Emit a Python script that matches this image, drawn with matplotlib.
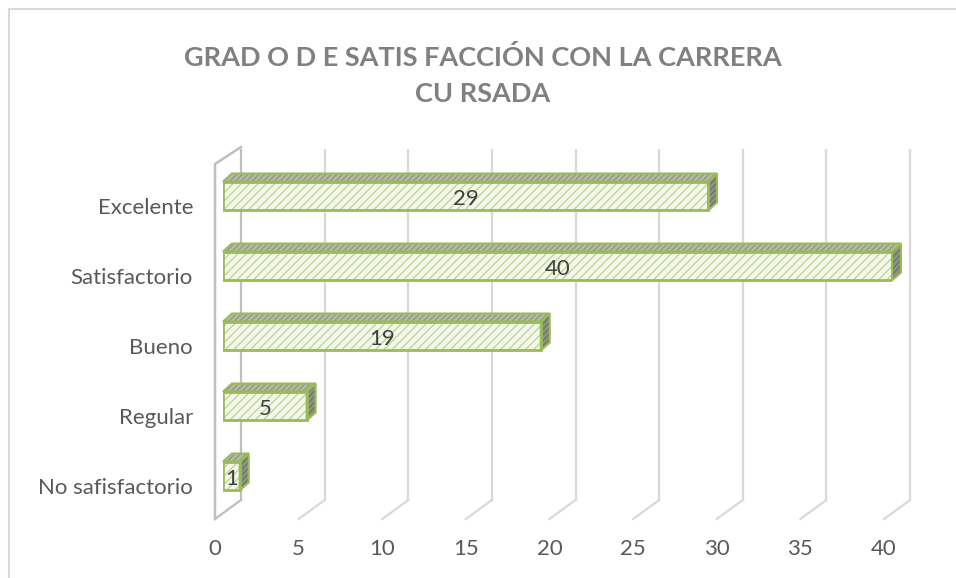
import numpy as np
import matplotlib
matplotlib.use("Agg")
import matplotlib.pyplot as plt
from matplotlib.transforms import Affine2D
from matplotlib.patches import Polygon
from matplotlib.lines import Line2D

categories = ["No safisfactorio", "Regular", "Bueno", "Satisfactorio", "Excelente"]
values = [1, 5, 19, 40, 29]
xticks = [0, 5, 10, 15, 20, 25, 30, 35, 40]
title = "GRAD O D E SATIS FACCIÓN CON LA CARRERA\nCU RSADA"

plt.rcParams['font.family'] = ['Lato', 'DejaVu Sans']
plt.rcParams['hatch.linewidth'] = 1.0

green = "#9BBB59"
text_gray = "#595959"
grid_gray = "#D9D9D9"
wall_gray = "#BFBFBF"

W, H = 956, 578
fig = plt.figure(figsize=(W / 100, H / 100), dpi=100)

# axes box = front plane of the bars
left, right, top, bottom = 223, 892, 161, 511
ax = fig.add_axes([left / W, 1 - bottom / H, (right - left) / W, (bottom - top) / H])
ax.set_xlim(0, 40)
ax.set_ylim(-0.5, 4.5)
for s in ax.spines.values():
    s.set_visible(False)


def shift(dx, dy, base=None):
    base = ax.transData if base is None else base
    return base + Affine2D().translate(dx, dy)


xa = ax.get_xaxis_transform()

# back wall grid lines and floor diagonals
for v in xticks:
    col = wall_gray if v == 0 else grid_gray
    ax.plot([v, v], [0, 1], color=col, lw=1.6, transform=shift(18, 11, xa), clip_on=False, zorder=1)
    # floor diagonal: back bottom -> front bottom
    p_back = ax.transData.transform((v, ax.get_ylim()[0])) + np.array([18, 11])
    p_front = ax.transData.transform((v, ax.get_ylim()[0])) + np.array([-8, -8])
    fig.add_artist(Line2D([p_back[0], p_front[0]], [p_back[1], p_front[1]],
                          transform=None, color=col, lw=1.6, zorder=1))

# left wall front edge + top diagonal
y0_disp = ax.transAxes.transform((0, 0))
y1_disp = ax.transAxes.transform((0, 1))
fig.add_artist(Line2D([y0_disp[0] - 8, y0_disp[0] - 8, y0_disp[0] + 18],
                      [y0_disp[1] - 8, y1_disp[1] - 3, y1_disp[1] + 14],
                      transform=None, color=wall_gray, lw=1.8, zorder=1))

bar_h = 0.414
ypos = np.arange(len(categories))
ddx, ddy = 9, 8  # bar depth in pixels


def to_data(px):
    return ax.transData.inverted().transform(px)


for y, v in zip(ypos, values):
    yt, yb = y + bar_h / 2, y - bar_h / 2
    ftl = ax.transData.transform((0, yt))
    ftr = ax.transData.transform((v, yt))
    fbr = ax.transData.transform((v, yb))
    d = np.array([ddx, ddy])
    top_face = to_data(np.array([ftl, ftr, ftr + d, ftl + d]))
    side_face = to_data(np.array([ftr, fbr, fbr + d, ftr + d]))
    ax.add_patch(Polygon(top_face, closed=True, facecolor="#B4BBA8", edgecolor="#8F9A80",
                         hatch="//////", lw=0, zorder=3, clip_on=False))
    ax.add_patch(Polygon(top_face, closed=True, fill=False, edgecolor=green, lw=1.5,
                         zorder=4, clip_on=False))
    ax.add_patch(Polygon(side_face, closed=True, facecolor="#8E9485", edgecolor="#6E7565",
                         hatch="//////", lw=0, zorder=3, clip_on=False))
    ax.add_patch(Polygon(side_face, closed=True, fill=False, edgecolor=green, lw=1.5,
                         zorder=4, clip_on=False))

ax.barh(ypos, values, height=bar_h, color="#F4F8EC", edgecolor="#C0D595",
        hatch="////", lw=0, zorder=3)
ax.barh(ypos, values, height=bar_h, fill=False, edgecolor=green, lw=2, zorder=4)

for y, v in zip(ypos, values):
    ax.text(v / 2, y, str(v), ha="center", va="center", fontsize=16, color="#404040",
            transform=shift(0, -3), zorder=5)

ax.set_yticks(ypos)
ax.set_yticklabels(categories, fontsize=16, color=text_gray)
ax.set_xticks(xticks)
ax.set_xticklabels([str(t) for t in xticks], fontsize=16, color=text_gray)
ax.tick_params(length=0)
ax.tick_params(axis="y", pad=21.6)
ax.tick_params(axis="x", pad=20.5)
for lab in ax.get_yticklabels():
    lab.set_transform(lab.get_transform() + Affine2D().translate(0, -10))
for lab in ax.get_xticklabels():
    lab.set_transform(lab.get_transform() + Affine2D().translate(-8, 0))

fig.text(0.505, 1 - 76 / H, title, ha="center", va="center", fontsize=19.5, fontweight="bold",
         color="#808080", linespacing=1.6)

# chart area border (left and top only visible)
fig.add_artist(Line2D([9, 9, W], [0, H - 9, H - 9], transform=None, color=grid_gray, lw=1.5))

fig.savefig("out.png", dpi=100)
